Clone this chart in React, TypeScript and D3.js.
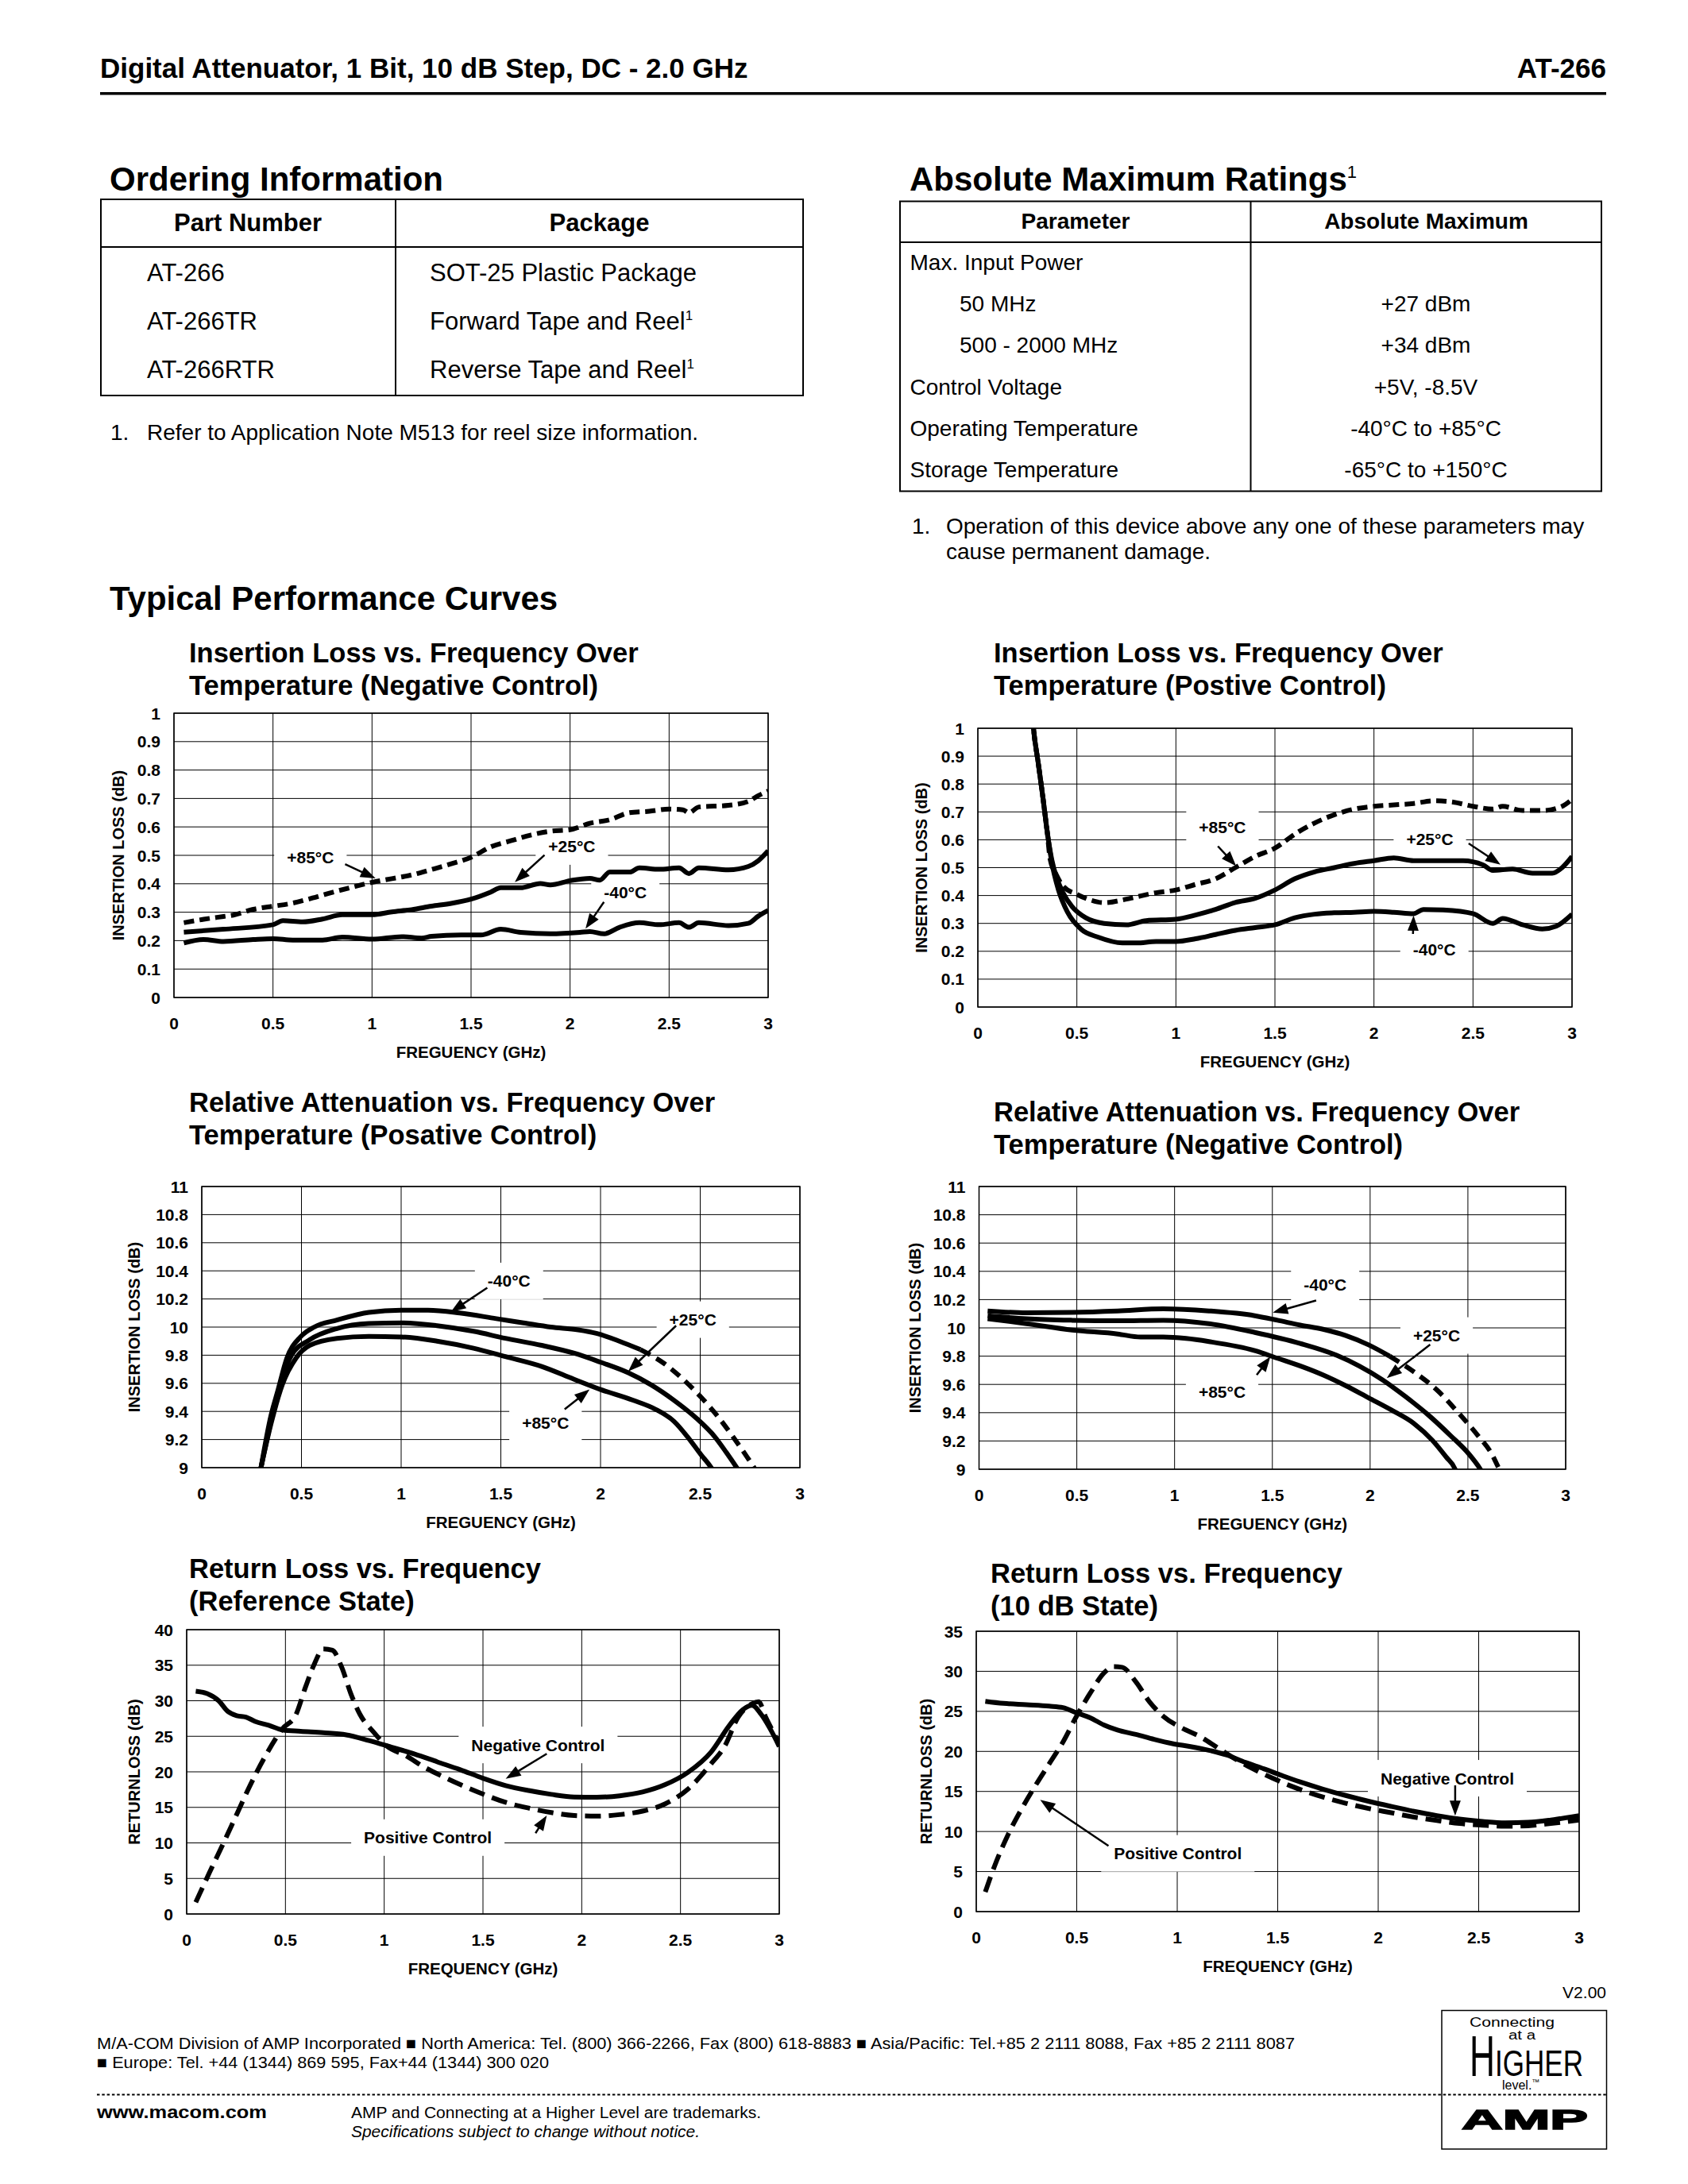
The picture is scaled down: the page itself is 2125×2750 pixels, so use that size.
import React from 'react';
import * as d3 from 'd3';

const FONT = '"Liberation Sans", Arial, Helvetica, sans-serif';

type Pt = [number, number];

// ---------------- axis ticks ----------------
const FREQ_TICKS = [0, 0.5, 1, 1.5, 2, 2.5, 3];
const IL_TICKS = [0, 0.1, 0.2, 0.3, 0.4, 0.5, 0.6, 0.7, 0.8, 0.9, 1];
const RA_TICKS = [9, 9.2, 9.4, 9.6, 9.8, 10, 10.2, 10.4, 10.6, 10.8, 11];
const RL_REF_TICKS = [0, 5, 10, 15, 20, 25, 30, 35, 40];
const RL_10DB_TICKS = [0, 5, 10, 15, 20, 25, 30, 35];

// ---------------- tables ----------------
const ORDER_PARTS = ['AT-266', 'AT-266TR', 'AT-266RTR'];
const ORDER_PACKAGES = ['SOT-25 Plastic Package', 'Forward Tape and Reel', 'Reverse Tape and Reel'];
const ORDER_NOTE_MARK = [false, true, true];
const AMR_PARAMS = ['Max. Input Power', '50 MHz', '500 - 2000 MHz', 'Control Voltage', 'Operating Temperature', 'Storage Temperature'];
const AMR_INDENT = [false, true, true, false, false, false];
const AMR_VALUES = ['', '+27 dBm', '+34 dBm', '+5V, -8.5V', '-40°C to +85°C', '-65°C to +150°C'];

// ---------------- chart 1: insertion loss, negative control ----------------
const IL_NEG_P85: Pt[] = [[0.05,0.263],[0.15,0.275],[0.25,0.285],[0.3,0.29],[0.4,0.31],[0.5,0.321],[0.6,0.332],[0.7,0.35],[0.8,0.37],[0.9,0.388],[1.0,0.405],[1.1,0.418],[1.2,0.431],[1.3,0.45],[1.4,0.47],[1.5,0.493],[1.6,0.53],[1.7,0.551],[1.8,0.571],[1.9,0.585],[2.0,0.59],[2.1,0.613],[2.2,0.625],[2.3,0.65],[2.4,0.655],[2.5,0.663],[2.57,0.66],[2.6,0.65],[2.65,0.67],[2.8,0.676],[2.9,0.69],[2.95,0.71],[3.0,0.726]];
const IL_NEG_P25: Pt[] = [[0.05,0.23],[0.25,0.24],[0.5,0.256],[0.55,0.27],[0.65,0.266],[0.75,0.276],[0.85,0.291],[1.0,0.291],[1.1,0.301],[1.2,0.309],[1.3,0.321],[1.4,0.331],[1.5,0.346],[1.6,0.371],[1.65,0.386],[1.75,0.386],[1.85,0.401],[1.9,0.396],[2.0,0.411],[2.1,0.419],[2.15,0.413],[2.2,0.441],[2.3,0.441],[2.35,0.456],[2.45,0.451],[2.55,0.456],[2.6,0.436],[2.65,0.456],[2.8,0.449],[2.9,0.461],[2.95,0.481],[3.0,0.516]];
const IL_NEG_M40: Pt[] = [[0.05,0.192],[0.15,0.204],[0.25,0.197],[0.4,0.204],[0.5,0.207],[0.6,0.202],[0.75,0.202],[0.85,0.212],[1.0,0.205],[1.15,0.214],[1.25,0.209],[1.3,0.215],[1.45,0.22],[1.55,0.22],[1.65,0.24],[1.75,0.229],[1.9,0.224],[2.05,0.229],[2.1,0.232],[2.17,0.224],[2.25,0.247],[2.35,0.263],[2.45,0.256],[2.55,0.263],[2.6,0.247],[2.65,0.263],[2.8,0.253],[2.9,0.261],[2.95,0.286],[3.0,0.306]];

// ---------------- chart 2: insertion loss, positive control ----------------
const IL_POS_P85: Pt[] = [[0.27,1.1],[0.281,1.0],[0.304,0.88],[0.327,0.76],[0.35,0.63],[0.365,0.53],[0.396,0.475],[0.43,0.434],[0.5,0.404],[0.568,0.384],[0.637,0.374],[0.73,0.384],[0.8,0.395],[0.9,0.41],[1.0,0.42],[1.1,0.44],[1.2,0.46],[1.3,0.5],[1.4,0.54],[1.5,0.57],[1.6,0.62],[1.7,0.66],[1.8,0.69],[1.9,0.71],[2.0,0.72],[2.1,0.725],[2.2,0.73],[2.3,0.74],[2.4,0.735],[2.5,0.72],[2.6,0.71],[2.65,0.72],[2.75,0.705],[2.85,0.705],[2.95,0.72],[3.0,0.745]];
const IL_POS_P25: Pt[] = [[0.27,1.1],[0.281,1.0],[0.304,0.88],[0.327,0.76],[0.35,0.63],[0.373,0.53],[0.4,0.46],[0.43,0.41],[0.476,0.36],[0.545,0.32],[0.637,0.3],[0.75,0.295],[0.85,0.31],[1.0,0.315],[1.1,0.33],[1.2,0.35],[1.3,0.375],[1.4,0.39],[1.5,0.42],[1.6,0.46],[1.7,0.485],[1.8,0.5],[1.9,0.515],[2.0,0.525],[2.1,0.535],[2.2,0.525],[2.3,0.525],[2.45,0.525],[2.55,0.51],[2.6,0.49],[2.7,0.495],[2.8,0.48],[2.9,0.48],[2.95,0.5],[3.0,0.54]];
const IL_POS_M40: Pt[] = [[0.27,1.1],[0.281,1.0],[0.304,0.88],[0.327,0.76],[0.35,0.63],[0.373,0.52],[0.407,0.42],[0.453,0.34],[0.52,0.28],[0.61,0.25],[0.73,0.23],[0.8,0.23],[0.9,0.235],[1.0,0.235],[1.1,0.245],[1.2,0.26],[1.3,0.275],[1.4,0.285],[1.5,0.295],[1.6,0.32],[1.7,0.333],[1.8,0.338],[1.9,0.34],[2.0,0.343],[2.1,0.34],[2.2,0.335],[2.25,0.35],[2.35,0.348],[2.5,0.335],[2.6,0.3],[2.65,0.318],[2.75,0.295],[2.85,0.28],[2.92,0.29],[3.0,0.333]];

// ---------------- chart 3: relative attenuation, positive control ----------------
const RA_POS_M40: Pt[] = [[0.297,9.0],[0.347,9.37],[0.381,9.545],[0.427,9.78],[0.495,9.93],[0.564,10.0],[0.678,10.05],[0.838,10.105],[1.0,10.12],[1.135,10.12],[1.294,10.1],[1.477,10.06],[1.614,10.03],[1.751,10.0],[1.888,9.98],[1.979,9.955],[2.094,9.9],[2.2,9.84],[2.32,9.74],[2.413,9.63],[2.505,9.5],[2.596,9.35],[2.664,9.22],[2.733,9.08],[2.77,9.0],[2.8,8.92]];
const RA_POS_P25: Pt[] = [[0.297,9.0],[0.347,9.33],[0.393,9.59],[0.45,9.8],[0.541,9.91],[0.678,9.99],[0.838,10.025],[1.0,10.03],[1.18,10.01],[1.363,9.97],[1.523,9.92],[1.705,9.87],[1.865,9.815],[2.0,9.75],[2.139,9.675],[2.253,9.59],[2.368,9.48],[2.482,9.35],[2.573,9.22],[2.63,9.11],[2.683,9.0],[2.71,8.94]];
const RA_POS_P85: Pt[] = [[0.297,9.0],[0.347,9.31],[0.404,9.59],[0.473,9.78],[0.541,9.87],[0.678,9.92],[0.838,9.934],[1.0,9.93],[1.18,9.9],[1.363,9.85],[1.523,9.79],[1.705,9.72],[1.865,9.63],[2.0,9.556],[2.162,9.48],[2.276,9.415],[2.368,9.33],[2.436,9.22],[2.505,9.09],[2.555,9.0],[2.58,8.94]];

// ---------------- chart 4: relative attenuation, negative control ----------------
const RA_NEG_M40: Pt[] = [[0.044,10.12],[0.243,10.107],[0.476,10.11],[0.709,10.12],[0.942,10.135],[1.176,10.12],[1.41,10.086],[1.526,10.054],[1.642,10.02],[1.759,9.99],[1.875,9.946],[1.992,9.88],[2.1,9.8],[2.225,9.688],[2.342,9.56],[2.459,9.387],[2.552,9.237],[2.622,9.108],[2.66,9.0],[2.68,8.94]];
const RA_NEG_P25: Pt[] = [[0.044,10.086],[0.243,10.065],[0.476,10.054],[0.709,10.05],[0.942,10.054],[1.176,10.03],[1.41,9.968],[1.642,9.89],[1.829,9.806],[1.945,9.73],[2.062,9.634],[2.179,9.516],[2.295,9.387],[2.412,9.237],[2.505,9.108],[2.564,9.0],[2.59,8.94]];
const RA_NEG_P85: Pt[] = [[0.044,10.065],[0.243,10.03],[0.476,9.985],[0.709,9.957],[0.826,9.935],[0.942,9.935],[1.059,9.925],[1.176,9.903],[1.41,9.839],[1.526,9.785],[1.642,9.731],[1.759,9.667],[1.875,9.591],[1.992,9.505],[2.109,9.419],[2.225,9.323],[2.319,9.204],[2.389,9.086],[2.435,9.0],[2.45,8.94]];

// ---------------- chart 5: return loss, reference state ----------------
const RL_REF_NEG: Pt[] = [[0.046,31.35],[0.104,31.0],[0.162,30.0],[0.208,28.5],[0.254,27.9],[0.3,27.7],[0.346,27.1],[0.415,26.55],[0.485,25.9],[0.577,25.7],[0.692,25.5],[0.808,25.2],[0.923,24.4],[1.039,23.45],[1.154,22.5],[1.269,21.4],[1.385,20.3],[1.5,19.1],[1.615,18.07],[1.731,17.37],[1.846,16.83],[1.962,16.46],[2.077,16.42],[2.192,16.63],[2.308,17.16],[2.423,18.2],[2.538,19.93],[2.654,22.75],[2.746,26.47],[2.815,28.74],[2.862,29.36],[2.908,28.1],[2.954,26.05],[3.0,23.57]];
const RL_REF_POS: Pt[] = [[0.046,1.65],[0.115,5.8],[0.185,9.9],[0.254,14.06],[0.323,18.2],[0.392,21.9],[0.485,26.05],[0.554,28.1],[0.6,31.8],[0.646,35.15],[0.692,37.3],[0.738,37.1],[0.785,34.7],[0.831,31.0],[0.877,28.1],[0.946,25.6],[1.015,23.57],[1.108,22.3],[1.2,20.7],[1.292,19.4],[1.385,18.2],[1.5,16.87],[1.615,15.7],[1.731,14.9],[1.846,14.27],[1.962,13.85],[2.077,13.77],[2.192,13.98],[2.308,14.47],[2.423,15.5],[2.538,17.58],[2.654,21.1],[2.723,23.57],[2.792,27.7],[2.862,29.57],[2.896,29.86],[2.931,27.7],[2.977,25.2],[3.0,24.0]];

// ---------------- chart 6: return loss, 10 dB state ----------------
const RL_10DB_NEG: Pt[] = [[0.045,26.26],[0.136,26.0],[0.25,25.83],[0.363,25.65],[0.431,25.47],[0.499,24.82],[0.567,24.2],[0.635,23.3],[0.703,22.66],[0.794,22.12],[0.885,21.5],[0.976,20.97],[1.066,20.6],[1.157,20.14],[1.248,19.53],[1.339,18.63],[1.43,17.84],[1.52,17.0],[1.611,16.19],[1.725,15.29],[1.838,14.5],[1.951,13.78],[2.065,13.13],[2.178,12.52],[2.292,11.98],[2.405,11.55],[2.519,11.26],[2.632,11.08],[2.746,11.15],[2.859,11.44],[3.0,11.98]];
const RL_10DB_POS: Pt[] = [[0.045,2.45],[0.091,5.68],[0.159,9.64],[0.227,12.88],[0.295,15.76],[0.363,18.45],[0.431,21.15],[0.499,24.39],[0.567,27.27],[0.635,29.78],[0.681,30.58],[0.726,30.5],[0.794,28.7],[0.862,26.19],[0.93,24.39],[1.021,22.95],[1.112,21.87],[1.203,20.43],[1.293,18.99],[1.384,17.73],[1.475,16.65],[1.566,15.68],[1.656,14.86],[1.747,14.14],[1.838,13.53],[1.951,12.88],[2.065,12.34],[2.178,11.8],[2.292,11.37],[2.405,11.0],[2.519,10.79],[2.632,10.65],[2.746,10.72],[2.859,11.0],[3.0,11.44]];

// ---------------- helpers ----------------
let measureCtx: CanvasRenderingContext2D | null = null;
function textWidth(t: string, font: string): number {
  if (typeof document !== 'undefined') {
    if (!measureCtx) measureCtx = document.createElement('canvas').getContext('2d');
    if (measureCtx) {
      measureCtx.font = font;
      return measureCtx.measureText(t).width;
    }
  }
  return t.length * 11;
}

type Series = { data: Pt[]; dash?: string; dashFrom?: number };
type Note = { text: string; at: Pt; from: Pt; to: Pt };

type ChartProps = {
  id: string;
  left: number; right: number; top: number; bottom: number;
  title: string[]; titleX: number; titleY: number;
  yDomain: [number, number]; yTicks: number[];
  yTitle: string; yTitleX: number; xTitle: string;
  series: Series[]; notes: Note[];
};

const NOTE_FONT_SIZE = 21;

function Arrow({ x1, y1, x2, y2 }: { x1: number; y1: number; x2: number; y2: number }) {
  const dx = x2 - x1, dy = y2 - y1;
  const len = Math.hypot(dx, dy) || 1;
  const ux = dx / len, uy = dy / len;
  const L = 19, W = 14;
  const bx = x2 - ux * L, by = y2 - uy * L;
  const nx = -uy, ny = ux;
  const pts = `${x2},${y2} ${bx + nx * W / 2},${by + ny * W / 2} ${bx - nx * W / 2},${by - ny * W / 2}`;
  return (
    <g>
      <line x1={x1} y1={y1} x2={bx + ux * 2} y2={by + uy * 2} stroke="#000" strokeWidth={2.5} />
      <polygon points={pts} fill="#000" />
    </g>
  );
}

function Chart(p: ChartProps) {
  const x = d3.scaleLinear().domain([0, 3]).range([p.left, p.right]);
  const y = d3.scaleLinear().domain(p.yDomain).range([p.bottom, p.top]);
  const line = d3.line<Pt>().x(d => x(d[0])).y(d => y(d[1])).curve(d3.curveMonotoneX);
  const clipId = `clip-${p.id}`;
  const noteFont = `bold ${NOTE_FONT_SIZE}px "Liberation Sans", Arial, sans-serif`;
  return (
    <g>
      {p.title.map((t, i) => (
        <text key={i} x={p.titleX} y={p.titleY + i * 41} fontSize={34.5} fontWeight="bold">{t}</text>
      ))}
      <defs>
        <clipPath id={clipId}>
          <rect x={p.left} y={p.top} width={p.right - p.left} height={p.bottom - p.top} />
        </clipPath>
      </defs>
      <rect x={p.left} y={p.top} width={p.right - p.left} height={p.bottom - p.top} fill="#fff" />
      {FREQ_TICKS.map(v => (
        <line key={'gx' + v} x1={x(v)} x2={x(v)} y1={p.top} y2={p.bottom} stroke="#000" strokeWidth={1} />
      ))}
      {p.yTicks.map(v => (
        <line key={'gy' + v} x1={p.left} x2={p.right} y1={y(v)} y2={y(v)} stroke="#000" strokeWidth={1} />
      ))}
      <rect x={p.left} y={p.top} width={p.right - p.left} height={p.bottom - p.top} fill="none" stroke="#000" strokeWidth={1.5} />
      {p.notes.map((n, i) => {
        const w = textWidth(n.text, noteFont) + 32;
        return <rect key={'nb' + i} x={x(n.at[0]) - w / 2} y={y(n.at[1]) - 23} width={w} height={46} fill="#fff" />;
      })}
      <g clipPath={`url(#${clipId})`} fill="none" stroke="#000" strokeWidth={6} strokeLinejoin="round">
        {p.series.map((s, i) => {
          if (s.dashFrom !== undefined) {
            const a = s.data.filter(d => d[0] <= s.dashFrom!);
            const b = s.data.filter(d => d[0] >= s.dashFrom!);
            return (
              <g key={i}>
                <path d={line(a) || ''} />
                <path d={line(b) || ''} strokeDasharray={s.dash} />
              </g>
            );
          }
          return <path key={i} d={line(s.data) || ''} strokeDasharray={s.dash} />;
        })}
      </g>
      {p.notes.map((n, i) => (
        <g key={'n' + i}>
          <Arrow x1={x(n.from[0])} y1={y(n.from[1])} x2={x(n.to[0])} y2={y(n.to[1])} />
          <text x={x(n.at[0])} y={y(n.at[1]) + 7.5} textAnchor="middle" fontSize={NOTE_FONT_SIZE} fontWeight="bold">{n.text}</text>
        </g>
      ))}
      {p.yTicks.map(v => (
        <text key={'ty' + v} x={p.left - 17} y={y(v) + 7.5} textAnchor="end" fontSize={21} fontWeight="bold">{String(v)}</text>
      ))}
      {FREQ_TICKS.map(v => (
        <text key={'tx' + v} x={x(v)} y={p.bottom + 40} textAnchor="middle" fontSize={21} fontWeight="bold">{String(v)}</text>
      ))}
      <text x={(p.left + p.right) / 2} y={p.bottom + 76} textAnchor="middle" fontSize={20.5} fontWeight="bold">{p.xTitle}</text>
      <text transform={`translate(${p.yTitleX + 7},${(p.top + p.bottom) / 2}) rotate(-90)`} textAnchor="middle" fontSize={20} fontWeight="bold">{p.yTitle}</text>
    </g>
  );
}

export default function App() {
  const orderRowY = (i: number) => 354 + 61 * i;
  const amrRowY = (i: number) => 340 + 52.2 * i;
  return (
    <div style={{ position: 'absolute', left: 0, top: 0, width: 2125, height: 2750, background: '#fff' }}>
      <svg width={2125} height={2750} viewBox="0 0 2125 2750" style={{ display: 'block' }} fontFamily={FONT} fill="#000">
        <rect width={2125} height={2750} fill="#fff" />

        {/* header */}
        <text x={126} y={98} fontSize={35} fontWeight="bold">Digital Attenuator, 1 Bit, 10 dB Step, DC - 2.0 GHz</text>
        <text x={2022} y={98} fontSize={35} fontWeight="bold" textAnchor="end">AT-266</text>
        <rect x={126} y={116} width={1896} height={3.5} fill="#000" />

        {/* ordering information */}
        <text x={138} y={240} fontSize={42} fontWeight="bold">Ordering Information</text>
        <rect x={127} y={251} width={884} height={247} fill="none" stroke="#000" strokeWidth={2} />
        <line x1={498} y1={251} x2={498} y2={498} stroke="#000" strokeWidth={2} />
        <line x1={127} y1={311} x2={1011} y2={311} stroke="#000" strokeWidth={2} />
        <text x={312} y={291} fontSize={31} fontWeight="bold" textAnchor="middle">Part Number</text>
        <text x={754.5} y={291} fontSize={31} fontWeight="bold" textAnchor="middle">Package</text>
        {ORDER_PARTS.map((t, i) => (
          <text key={'op' + i} x={185} y={orderRowY(i)} fontSize={31}>{t}</text>
        ))}
        {ORDER_PACKAGES.map((t, i) => (
          <text key={'ok' + i} x={541} y={orderRowY(i)} fontSize={31}>
            {t}
            {ORDER_NOTE_MARK[i] ? <tspan dy={-12} fontSize={17}>1</tspan> : null}
          </text>
        ))}
        <text x={139} y={554} fontSize={28}>1.</text>
        <text x={185} y={554} fontSize={28}>Refer to Application Note M513 for reel size information.</text>

        {/* absolute maximum ratings */}
        <text x={1145} y={240} fontSize={42} fontWeight="bold">
          Absolute Maximum Ratings<tspan dy={-16} fontSize={22} fontWeight="normal">1</tspan>
        </text>
        <rect x={1133} y={253.5} width={883} height={365} fill="none" stroke="#000" strokeWidth={2} />
        <line x1={1574.5} y1={253.5} x2={1574.5} y2={618.5} stroke="#000" strokeWidth={2} />
        <line x1={1133} y1={305} x2={2016} y2={305} stroke="#000" strokeWidth={2} />
        <text x={1354} y={288} fontSize={28} fontWeight="bold" textAnchor="middle">Parameter</text>
        <text x={1795.5} y={288} fontSize={28} fontWeight="bold" textAnchor="middle">Absolute Maximum</text>
        {AMR_PARAMS.map((t, i) => (
          <text key={'ap' + i} x={AMR_INDENT[i] ? 1208 : 1145.5} y={amrRowY(i)} fontSize={28}>{t}</text>
        ))}
        {AMR_VALUES.map((t, i) => (
          <text key={'av' + i} x={1795} y={amrRowY(i)} fontSize={28} textAnchor="middle">{t}</text>
        ))}
        <text x={1148} y={672} fontSize={28}>1.</text>
        <text x={1191} y={672} fontSize={28}>Operation of this device above any one of these parameters may</text>
        <text x={1191} y={704} fontSize={28}>cause permanent damage.</text>

        {/* typical performance curves */}
        <text x={138} y={768} fontSize={42} fontWeight="bold">Typical Performance Curves</text>

        <Chart
          id="c1" left={219} right={967} top={898} bottom={1256}
          title={['Insertion Loss vs. Frequency Over', 'Temperature (Negative Control)']} titleX={238} titleY={834}
          yDomain={[0, 1]} yTicks={IL_TICKS} yTitle="INSERTION LOSS (dB)" yTitleX={149} xTitle="FREGUENCY (GHz)"
          series={[
            { data: IL_NEG_P85, dash: '13 7' },
            { data: IL_NEG_P25 },
            { data: IL_NEG_M40 },
          ]}
          notes={[
            { text: '+85°C', at: [0.689, 0.493], from: [0.864, 0.469], to: [1.018, 0.419] },
            { text: '+25°C', at: [2.009, 0.531], from: [1.871, 0.501], to: [1.721, 0.406] },
            { text: '-40°C', at: [2.279, 0.371], from: [2.171, 0.336], to: [2.078, 0.242] },
          ]}
        />

        <Chart
          id="c2" left={1231} right={1979} top={917} bottom={1268}
          title={['Insertion Loss vs. Frequency Over', 'Temperature (Postive Control)']} titleX={1251} titleY={834}
          yDomain={[0, 1]} yTicks={IL_TICKS} yTitle="INSERTION LOSS (dB)" yTitleX={1160} xTitle="FREGUENCY (GHz)"
          series={[
            { data: IL_POS_P85, dash: '13 7' },
            { data: IL_POS_P25 },
            { data: IL_POS_M40 },
          ]}
          notes={[
            { text: '+85°C', at: [1.235, 0.646], from: [1.212, 0.577], to: [1.304, 0.506] },
            { text: '+25°C', at: [2.282, 0.602], from: [2.478, 0.587], to: [2.639, 0.511] },
            { text: '-40°C', at: [2.305, 0.206], from: [2.197, 0.262], to: [2.2, 0.328] },
          ]}
        />

        <Chart
          id="c3" left={254} right={1007} top={1494} bottom={1848}
          title={['Relative Attenuation vs. Frequency Over', 'Temperature (Posative Control)']} titleX={238} titleY={1400}
          yDomain={[9, 11]} yTicks={RA_TICKS} yTitle="INSERTION LOSS (dB)" yTitleX={169} xTitle="FREGUENCY (GHz)"
          series={[
            { data: RA_POS_M40, dash: '14 9', dashFrom: 2.2 },
            { data: RA_POS_P25 },
            { data: RA_POS_P85 },
          ]}
          notes={[
            { text: '-40°C', at: [1.541, 10.328], from: [1.432, 10.28], to: [1.249, 10.107] },
            { text: '+25°C', at: [2.463, 10.053], from: [2.379, 10.01], to: [2.139, 9.685] },
            { text: '+85°C', at: [1.724, 9.318], from: [1.82, 9.415], to: [1.945, 9.556] },
          ]}
        />

        <Chart
          id="c4" left={1232.5} right={1971} top={1494} bottom={1850}
          title={['Relative Attenuation vs. Frequency Over', 'Temperature (Negative Control)']} titleX={1251} titleY={1412}
          yDomain={[9, 11]} yTicks={RA_TICKS} yTitle="INSERTION LOSS (dB)" yTitleX={1152} xTitle="FREGUENCY (GHz)"
          series={[
            { data: RA_NEG_M40, dash: '14 9', dashFrom: 2.1 },
            { data: RA_NEG_P25 },
            { data: RA_NEG_P85 },
          ]}
          notes={[
            { text: '-40°C', at: [1.77, 10.308], from: [1.724, 10.194], to: [1.502, 10.108] },
            { text: '+25°C', at: [2.34, 9.946], from: [2.307, 9.882], to: [2.085, 9.645] },
            { text: '+85°C', at: [1.243, 9.548], from: [1.42, 9.667], to: [1.49, 9.796] },
          ]}
        />

        <Chart
          id="c5" left={235} right={981} top={2052} bottom={2410}
          title={['Return Loss vs. Frequency', '(Reference State)']} titleX={238} titleY={1987}
          yDomain={[0, 40]} yTicks={RL_REF_TICKS} yTitle="RETURNLOSS (dB)" yTitleX={169} xTitle="FREQUENCY (GHz)"
          series={[
            { data: RL_REF_POS, dash: '20 10' },
            { data: RL_REF_NEG },
          ]}
          notes={[
            { text: 'Negative Control', at: [1.779, 23.78], from: [1.823, 22.54], to: [1.615, 19.02] },
            { text: 'Positive Control', at: [1.221, 10.75], from: [1.766, 11.37], to: [1.823, 13.85] },
          ]}
        />

        <Chart
          id="c6" left={1229} right={1988} top={2054} bottom={2407}
          title={['Return Loss vs. Frequency', '(10 dB State)']} titleX={1247} titleY={1993}
          yDomain={[0, 35]} yTicks={RL_10DB_TICKS} yTitle="RETURNLOSS (dB)" yTitleX={1166} xTitle="FREQUENCY (GHz)"
          series={[
            { data: RL_10DB_POS, dash: '20 10' },
            { data: RL_10DB_NEG },
          ]}
          notes={[
            { text: 'Negative Control', at: [2.344, 16.65], from: [2.383, 15.76], to: [2.383, 11.98] },
            { text: 'Positive Control', at: [1.003, 7.27], from: [0.658, 8.2], to: [0.318, 13.96] },
          ]}
        />

        {/* footer */}
        <text x={2022} y={2516} fontSize={21} textAnchor="end">V2.00</text>
        <text x={122} y={2580} fontSize={21} textLength={1508} lengthAdjust="spacingAndGlyphs">M/A-COM Division of AMP Incorporated ■ North America: Tel. (800) 366-2266, Fax (800) 618-8883 ■ Asia/Pacific: Tel.+85 2 2111 8088, Fax +85 2 2111 8087</text>
        <text x={122} y={2604} fontSize={21} textLength={569} lengthAdjust="spacingAndGlyphs">■ Europe: Tel. +44 (1344) 869 595, Fax+44 (1344) 300 020</text>
        <line x1={122} y1={2637.5} x2={2022} y2={2637.5} stroke="#000" strokeWidth={2.2} strokeDasharray="3.5 2.8" />
        <text x={122} y={2667} fontSize={22} fontWeight="bold" textLength={214} lengthAdjust="spacingAndGlyphs">www.macom.com</text>
        <text x={442} y={2667} fontSize={20} textLength={516} lengthAdjust="spacingAndGlyphs">AMP and Connecting at a Higher Level are trademarks.</text>
        <text x={442} y={2691} fontSize={20} fontStyle="italic" textLength={439} lengthAdjust="spacingAndGlyphs">Specifications subject to change without notice.</text>

        {/* logo: one text element with positioned tspans */}
        <rect x={1815} y={2531.5} width={207.5} height={174.5} fill="none" stroke="#000" strokeWidth={1.5} />
        <text fontSize={16}>
          <tspan x={1850} y={2552} textLength={107} lengthAdjust="spacingAndGlyphs">Connecting</tspan>
          <tspan x={1899} y={2568} textLength={34} lengthAdjust="spacingAndGlyphs">at a</tspan>
          <tspan x={1850} y={2614} fontSize={72} textLength={32} lengthAdjust="spacingAndGlyphs">H</tspan>
          <tspan x={1882} y={2614} fontSize={46} textLength={111} lengthAdjust="spacingAndGlyphs">IGHER</tspan>
          <tspan x={1891} y={2631}>level.</tspan>
          <tspan dy={-6} fontSize={10}>™</tspan>
        </text>
        <text x={1840} y={2681} fontSize={35} fontWeight="bold" stroke="#000" strokeWidth={1.6} textLength={159} lengthAdjust="spacingAndGlyphs">AMP</text>
      </svg>
    </div>
  );
}
